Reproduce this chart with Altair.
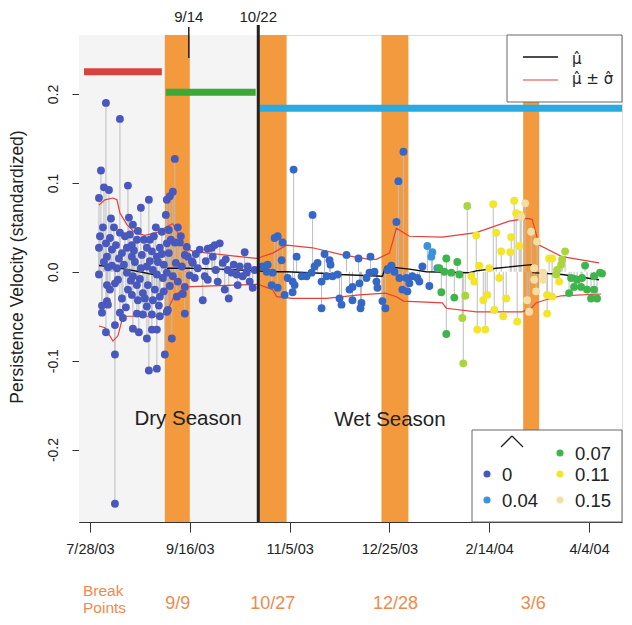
import altair as alt
import pandas as pd

# ---------------- data (x = days after 7/28/03) ----------------
TICK_DAYS = [0, 50, 100, 150, 200, 250]
TICK_LABELS = ["7/28/03", "9/16/03", "11/5/03", "12/25/03", "2/14/04", "4/4/04"]
Y_TICKS = [-0.2, -0.1, 0.0, 0.1, 0.2]

# level 0 (dry season)
L0_DAY = [4.5, 4.5, 4.5, 5.5, 6, 6, 6.5, 7, 7, 8, 8, 8, 8.5, 8.5, 8.5, 9, 9.5, 10, 10, 11, 11, 12,
          12.5, 12.5, 12.5, 12.5, 13.5, 14, 15, 15, 15, 16, 16.5, 17, 18.5, 18.5, 19, 19, 19.5, 20,
          21, 21, 21, 21.5, 21.5, 21.5, 22.5, 23.5, 23.5, 23.5, 24, 24.5, 25, 25.5, 26, 26.5, 26.5,
          27, 28.5, 28.5, 28.5, 28.5, 29, 29.5, 29.5, 30, 31, 31, 31, 31.5, 31.5, 33, 33.5, 33.5,
          33.5, 33.5, 34, 35, 35, 35, 36, 36.5, 37, 37.5, 38, 38.5, 38.5, 38.5, 38.5, 39, 39.5, 40,
          40.5, 41, 41.5, 41.5, 42.5, 42.5, 43.5, 44, 44, 45, 46, 47.5, 47.5, 47.5, 49, 51, 51.5,
          52.5, 54, 55, 56.5, 57.5, 59, 59, 61, 61.5, 62.5, 64, 65, 66.5, 67.5, 69, 69.5, 71, 73.5,
          75, 76.5, 77.5, 78.5, 80, 81.5,
          5, 9, 10.5, 13, 14.5, 16, 17.5, 18, 20.5, 22, 24, 25.5, 27.5, 30, 32, 32.5, 34.5, 36, 37,
          39.5, 40, 43, 45.5, 46.5, 48.5, 50, 53, 58, 63, 68, 72, 74, 79, 82.5]
L0_VAL = [0.027, 0.083, -0.003, 0.114, -0.046, -0.038, 0.050, 0.095, 0.011, 0.190, -0.068, 0.032,
          0.017, -0.033, -0.015, -0.037, 0.092, 0.038, -0.020, 0.007, 0.025, 0.050, -0.013, -0.093,
          -0.060, -0.261, 0.004, -0.009, 0.172, 0.044, -0.046, 0.021, -0.052, 0.008, 0.027, -0.001,
          0.097, -0.020, 0.061, 0.042, 0.030, 0.017, -0.026, -0.064, 0.053, -0.005, 0.011, 0.036,
          -0.015, -0.047, -0.032, -0.068, -0.008, 0.072, 0.019, -0.024, -0.048, 0.036, 0.027, 0.006,
          -0.039, -0.075, -0.015, 0.081, -0.111, 0.036, 0.023, -0.065, -0.048, 0.002, -0.032, 0.050,
          0.017, -0.003, -0.109, -0.065, 0.011, 0.027, -0.028, -0.050, 0.045, -0.007, -0.022, -0.093,
          0.064, 0.032, -0.001, 0.081, -0.045, -0.043, 0.021, 0.085, 0.036, -0.075, 0.090, -0.005,
          0.127, 0.033, -0.028, 0.050, -0.011, 0.033, 0.006, 0.019, -0.017, -0.047, 0.017, 0.012,
          0.010, -0.007, 0.004, 0.025, -0.032, -0.005, 0.026, -0.009, 0.027, 0.017, 0.030, -0.011,
          0.032, 0.010, -0.020, 0.002, -0.030, -0.001, -0.003, 0.006, -0.005, 0.022, -0.001, -0.011,
          -0.018,
          0.040, 0.005, 0.060, 0.030, 0.015, -0.030, 0.040, -0.040, -0.010, 0.024, 0.046, 0.004,
          -0.030, 0.012, 0.040, -0.020, -0.038, 0.020, 0.008, 0.047, -0.016, 0.010, 0.040, -0.025,
          0.028, -0.004, 0.020, 0.012, 0.002, 0.014, 0.008, -0.015, 0.006, 0.002]

# level 0.02 (early wet season, blue)
L1_DAY = [86.5, 88.5, 89, 91, 91.5, 92.5, 94, 94, 96, 96.5, 97.5, 99, 101.5, 101.5, 102, 102.5,
          103.5, 106, 108.5, 111, 111.5, 112.5, 114, 116, 116, 117.5, 118.5, 120, 120.5, 121.5, 124,
          125, 126, 128.5, 130, 131.5, 131.5, 134.5, 135, 135.5, 136, 138.5, 140, 140.5, 142.5,
          143.5, 144, 146.5, 148, 149, 150, 151, 152.5, 153.5, 154.5, 155, 156.5, 157, 158.5, 159,
          160, 161.5, 164, 165, 166.5, 170]
L1_VAL = [0.006, 0.000, 0.008, -0.015, -0.001, 0.038, 0.040, -0.018, 0.013, 0.033, -0.026, -0.007,
          -0.011, -0.023, 0.115, -0.015, 0.017, -0.005, -0.005, -0.001, 0.064, 0.006, 0.010, -0.011,
          -0.041, 0.020, -0.005, 0.013, 0.008, -0.005, -0.003, -0.030, -0.037, 0.019, -0.020, -0.017,
          -0.032, 0.015, -0.013, -0.041, -0.035, -0.007, -0.001, 0.017, 0.000, -0.011, -0.018,
          -0.033, -0.041, 0.002, 0.004, 0.007, 0.000, 0.056, 0.102, -0.007, -0.020, 0.135, -0.007,
          -0.022, -0.013, -0.005, -0.007, -0.011, 0.006, -0.016]

# level 0.04 (light blue)
L2_DAY = [169, 171, 171.5, 174]
L2_VAL = [0.029, 0.017, 0.022, 0.004]

# level 0.07 (green)
L3_DAY = [175, 176, 177.5, 178.5, 178.5, 181, 182.5, 184, 185,
          240, 241, 242.5, 244, 246, 246.5, 248, 249, 251, 252.5, 252.5, 254, 255.5, 256.5]
L3_VAL = [0.004, -0.023, 0.000, 0.015, -0.070, -0.001, -0.029, 0.011, -0.003,
          -0.024, -0.007, -0.017, -0.009, -0.017, -0.007, 0.007, -0.020, -0.030, -0.020, -0.005,
          -0.030, -0.001, -0.002]

# level 0.09 (lime)
L4_DAY = [186.5, 187, 188, 189, 233.5, 234, 236, 236.5, 238]
L4_VAL = [-0.052, -0.103, -0.027, 0.074, -0.003, 0.002, 0.008, 0.014, 0.023]

# level 0.11 (yellow)
L5_DAY = [191, 192.5, 193.5, 194, 195, 197, 198, 199, 200, 202, 202.5, 203.5, 205, 206, 207, 208.5,
          210.5, 211, 212.5, 213.5, 214, 215, 215.5, 229, 229, 230, 231.5, 231.5, 235]
L5_VAL = [-0.005, -0.011, 0.041, -0.065, 0.007, -0.032, -0.065, -0.026, 0.004, 0.076, -0.043, 0.044,
          -0.007, 0.023, -0.050, -0.030, 0.022, 0.039, 0.080, 0.066, -0.056, 0.029, 0.064, -0.047,
          -0.026, 0.015, 0.015, -0.028, -0.011]

# level 0.15 (pale)
L6_DAY = [216, 218, 219, 220, 221, 222.5, 222.5, 223.5, 224, 227, 227]
L6_VAL = [0.062, 0.077, -0.032, -0.045, 0.045, 0.004, -0.009, -0.022, 0.034, -0.001, -0.009]

LEVELS = ["0", "0.02", "0.04", "0.07", "0.09", "0.11", "0.15"]
LEVEL_COLORS = ["#4858bd", "#3568c6", "#3c93d8", "#3db54a", "#a8d63c", "#f2e52c", "#f4dea6"]

# running mean and mean +/- sd
MU_DAY = [4.5, 10, 17.5, 25, 33.5, 37.5, 39, 50, 65, 75, 84, 90, 98.5, 110, 118.5, 125, 146.5, 148,
          160, 168.5, 190, 193.5, 203.5, 221, 222, 236.5, 255]
MU_VAL = [0.007, 0.006, 0.003, 0.000, -0.004, -0.004, 0.004, 0.004, 0.003, 0.002, 0.001, 0.000,
          0.000, -0.001, -0.002, -0.003, -0.005, 0.006, 0.003, 0.000, -0.001, 0.001, 0.004, 0.008,
          -0.001, -0.003, -0.009]
UP_DAY = [4.5, 7.5, 11.5, 13.5, 15, 18.5, 22.5, 27.5, 33.5, 38.5, 41.5, 44, 46, 51.5, 71.5, 83.5,
          91.5, 98.5, 111.5, 126.5, 140, 143.5, 150, 153.5, 160, 176.5, 193.5, 210, 219, 221.5, 225,
          236.5, 255]
UP_VAL = [0.075, 0.081, 0.083, 0.081, 0.066, 0.053, 0.044, 0.041, 0.044, 0.051, 0.054, 0.044, 0.030,
          0.023, 0.018, 0.015, 0.021, 0.030, 0.027, 0.019, 0.014, 0.014, 0.021, 0.049, 0.040, 0.039,
          0.044, 0.057, 0.060, 0.059, 0.030, 0.017, 0.010]
LO_DAY = [4.5, 7.5, 11.5, 14, 16.5, 35, 37, 40, 42, 48, 72, 84, 91.5, 93.5, 101.5, 118.5, 135, 148,
          153.5, 157, 176.5, 178.5, 193.5, 216.5, 221, 223.5, 227.5, 236, 256]
LO_VAL = [-0.061, -0.063, -0.078, -0.072, -0.050, -0.050, -0.048, -0.038, -0.028, -0.017, -0.015,
          -0.014, -0.020, -0.028, -0.030, -0.030, -0.026, -0.024, -0.028, -0.033, -0.035, -0.041,
          -0.045, -0.045, -0.041, -0.035, -0.032, -0.027, -0.025]

# regime segments
SEG_START = [-3, 38, 85]
SEG_END = [36, 83, 266.5]
SEG_VAL = [0.225, 0.202, 0.184]
SEG_COLORS = ["#d8433f", "#3aa935", "#2aaae2"]

# break point bands and labels
BAND_START = [37.5, 84.5, 146, 217]
BAND_END = [50, 98.5, 159.5, 225]
BREAK_DAY = [44, 91.5, 153, 222]
BREAK_LABEL = ["9/9", "10/27", "12/28", "3/6"]
MARK_DAY = [49.5, 84.3]
MARK_LABEL = ["9/14", "10/22"]
DRY_END = 84.3

# ---------------- build tables ----------------
groups = [(L0_DAY, L0_VAL, "0"), (L1_DAY, L1_VAL, "0.02"), (L2_DAY, L2_VAL, "0.04"),
          (L3_DAY, L3_VAL, "0.07"), (L4_DAY, L4_VAL, "0.09"), (L5_DAY, L5_VAL, "0.11"),
          (L6_DAY, L6_VAL, "0.15")]
pts = pd.concat([pd.DataFrame({"day": d, "val": v, "level": lv}) for d, v, lv in groups],
                ignore_index=True)
pts["base"] = 0.0

mu = pd.DataFrame({"day": MU_DAY, "val": MU_VAL})
up = pd.DataFrame({"day": UP_DAY, "val": UP_VAL})
lo = pd.DataFrame({"day": LO_DAY, "val": LO_VAL})
bands = pd.DataFrame({"s": BAND_START, "e": BAND_END})
breaks = pd.DataFrame({"day": BREAK_DAY, "lab": BREAK_LABEL})
marks = pd.DataFrame({"day": MARK_DAY, "lab": MARK_LABEL})
dry = pd.DataFrame({"s": [-5.5], "e": [DRY_END]})
seasons = pd.DataFrame({"day": [49.1, 150.3], "val": [-0.1655, -0.1665],
                        "lab": ["Dry Season", "Wet Season"]})
ONE = pd.DataFrame({"k": [0]})

W, H = 543, 487
FONT = "Liberation Sans"
ORANGE = "#f39a3e"
ORANGE_TXT = "#ee8a4c"

xs = alt.Scale(domain=[-5.5, 266.5], nice=False, zero=False)
ys = alt.Scale(domain=[-0.2815, 0.2664], nice=False, zero=False)
x_expr = " : ".join(f"datum.value == {d} ? '{l}'" for d, l in zip(TICK_DAYS, TICK_LABELS)) + " : ''"
X_AX = alt.Axis(values=TICK_DAYS, labelExpr=x_expr, title=None, grid=False, tickSize=10,
                labelPadding=10, labelFontSize=14.5, labelColor="#222", tickColor="#333",
                domainColor="#333", labelFont=FONT)
Y_AX = alt.Axis(values=Y_TICKS, labelExpr="replace(format(datum.value, '.1f'), '\u2212', '-')",
                title=None, grid=False, tickSize=7, labelPadding=12, labelAngle=270,
                labelAlign="center", labelBaseline="bottom", labelFontSize=14, labelColor="#222",
                tickColor="#333", domainColor="#333", labelFont=FONT)

X = lambda f: alt.X(f, scale=xs, axis=X_AX)
Y = lambda f: alt.Y(f, scale=ys, axis=Y_AX)
color_scale = alt.Scale(domain=LEVELS, range=LEVEL_COLORS)

layers = []
layers.append(alt.Chart(dry).mark_rect(color="#f4f4f4").encode(
    x=X("s:Q"), x2="e:Q", y=alt.value(0), y2=alt.value(H)))
layers.append(alt.Chart(bands).mark_rect(color=ORANGE).encode(
    x=X("s:Q"), x2="e:Q", y=alt.value(0), y2=alt.value(H)))
layers.append(alt.Chart(pts).mark_rule(color="#bdbdbd", strokeWidth=1).encode(
    x=X("day:Q"), y=Y("val:Q"), y2="base:Q"))
layers.append(alt.Chart(up).mark_line(color="#e2403a", strokeWidth=1.2).encode(
    x=X("day:Q"), y=Y("val:Q")))
layers.append(alt.Chart(lo).mark_line(color="#e2403a", strokeWidth=1.2).encode(
    x=X("day:Q"), y=Y("val:Q")))
layers.append(alt.Chart(mu).mark_line(color="#111111", strokeWidth=1.4).encode(
    x=X("day:Q"), y=Y("val:Q")))
layers.append(alt.Chart(pts).mark_circle(size=62, opacity=1).encode(
    x=X("day:Q"), y=Y("val:Q"),
    color=alt.Color("level:N", scale=color_scale, legend=None)))

# legend boxes (white, cover bands)
layers.append(alt.Chart(ONE).mark_rect(fill="white", stroke="#666", strokeWidth=1).encode(
    x=alt.value(428), x2=alt.value(W), y=alt.value(0), y2=alt.value(67)))
layers.append(alt.Chart(ONE).mark_rect(fill="white", stroke="#666", strokeWidth=1).encode(
    x=alt.value(393), x2=alt.value(W), y=alt.value(395), y2=alt.value(H)))

# regime segments (one layer each, fixed colour)
for s, e, v, c in zip(SEG_START, SEG_END, SEG_VAL, SEG_COLORS):
    seg = pd.DataFrame({"s": [s], "e": [e], "val": [v]})
    layers.append(alt.Chart(seg).mark_rule(strokeWidth=7, color=c).encode(
        x=X("s:Q"), x2="e:Q", y=Y("val:Q")))

# 9/14 tick and 10/22 line
layers.append(alt.Chart(marks.iloc[[0]]).mark_rule(color="#222", strokeWidth=1.5).encode(
    x=X("day:Q"), y=alt.value(-8), y2=alt.value(23)))
layers.append(alt.Chart(marks.iloc[[1]]).mark_rule(color="#222", strokeWidth=3).encode(
    x=X("day:Q"), y=alt.value(-10), y2=alt.value(H)))
layers.append(alt.Chart(marks).mark_text(fontSize=15, font=FONT, color="#222").encode(
    x=X("day:Q"), y=alt.value(-18), text="lab:N"))

# season labels
layers.append(alt.Chart(seasons).mark_text(fontSize=20.5, font=FONT, color="#222").encode(
    x=X("day:Q"), y=Y("val:Q"), text="lab:N"))

# break point labels below the axis
layers.append(alt.Chart(breaks).mark_text(fontSize=18, font=FONT, color=ORANGE_TXT).encode(
    x=X("day:Q"), y=alt.value(569), text="lab:N"))


def put_text(txt, px, py, **kw):
    return alt.Chart(ONE).mark_text(text=txt, **kw).encode(x=alt.value(px), y=alt.value(py))


def put_rule(x1, y1, x2, y2, **kw):
    return alt.Chart(ONE).mark_rule(**kw).encode(
        x=alt.value(x1), y=alt.value(y1), x2=alt.value(x2), y2=alt.value(y2))


layers.append(put_text("Break", 4, 556, align="left", fontSize=15.5, font=FONT, color=ORANGE_TXT))
layers.append(put_text("Points", 4, 573, align="left", fontSize=15.5, font=FONT, color=ORANGE_TXT))
layers.append(put_text("Persistence Velocity (standardized)", -61, 232, angle=270, fontSize=17.5,
                       font=FONT, color="#222"))

# top-right legend
layers.append(put_rule(444, 22, 479, 22, color="#111", strokeWidth=1.5))
layers.append(put_rule(444, 45, 479, 45, color="#e2403a", strokeWidth=1.2))
layers.append(put_text("\u03bc\u0302", 493, 24, align="left", fontSize=15, font="DejaVu Sans",
                       color="#222"))
layers.append(put_text("\u03bc\u0302 \u00b1 \u03c3\u0302", 493, 44, align="left", fontSize=15,
                       font="DejaVu Sans", color="#222"))

# bottom-right legend: caret title drawn as two strokes
layers.append(put_rule(422, 412, 433, 401, color="#222", strokeWidth=1.3))
layers.append(put_rule(433, 401, 444, 412, color="#222", strokeWidth=1.3))
LEG = [("0", 408, 439), ("0.04", 408, 465), ("0.07", 481, 418), ("0.11", 481, 439), ("0.15", 481, 465)]
for lab, px, py in LEG:
    col = LEVEL_COLORS[LEVELS.index(lab)]
    layers.append(alt.Chart(ONE).mark_circle(size=50, opacity=1, color=col).encode(
        x=alt.value(px), y=alt.value(py)))
    layers.append(put_text(lab, px + 15, py + 1, align="left", fontSize=18.5, font=FONT,
                           color="#222"))

chart = alt.layer(*layers).properties(
    width=W, height=H,
    padding={"left": 71, "top": 27, "right": 2, "bottom": 95},
    autosize=alt.AutoSizeParams(type="none"),
    background="white",
).configure_view(stroke="#888", strokeWidth=1).configure(font=FONT)

chart.save("out.html", embed_options={"renderer": "svg", "actions": False})
